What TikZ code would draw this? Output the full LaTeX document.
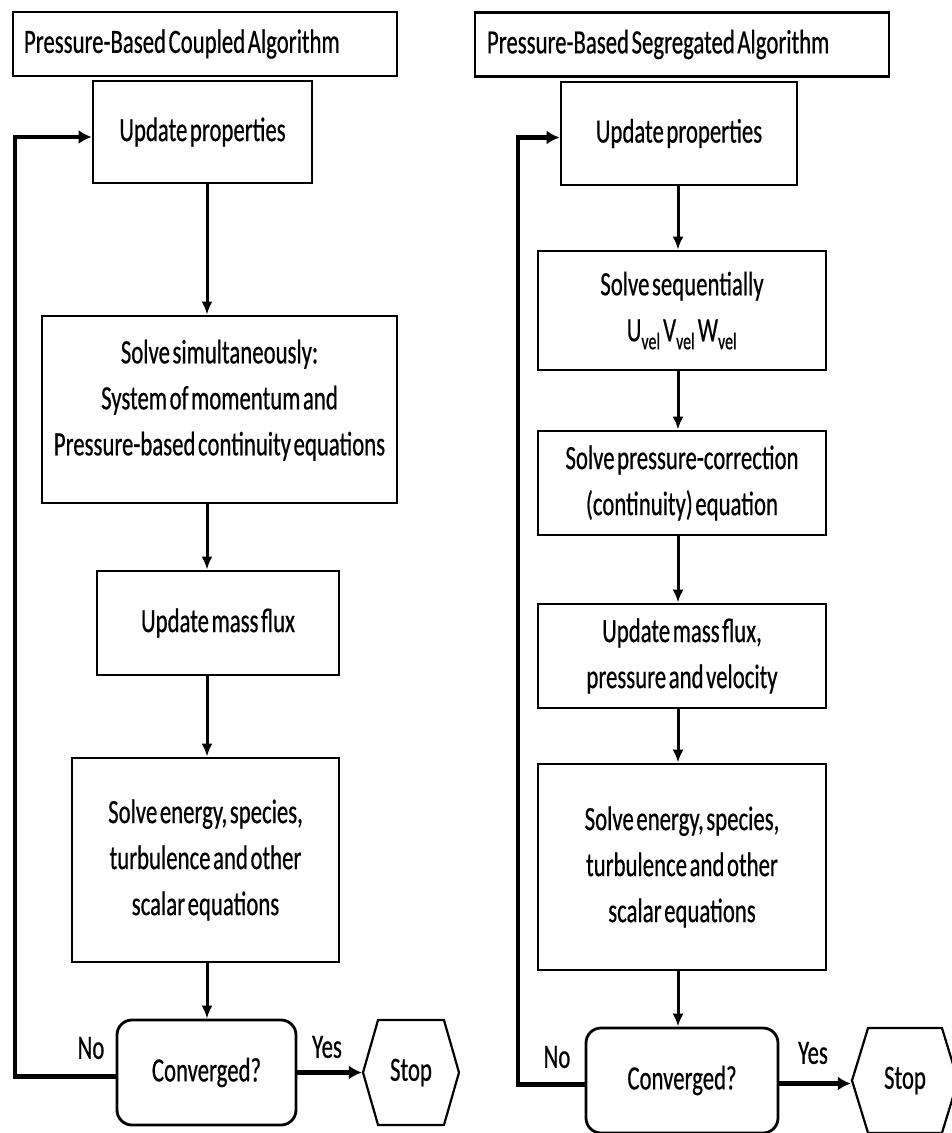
\documentclass[tikz,border=0pt]{standalone}
\usepackage{fontspec}
\setmainfont{Carlito}[FakeStretch=0.67, WordSpace=0.5, FakeBold=0.5]
\usetikzlibrary{arrows.meta,shapes.symbols,calc}

\begin{document}
\begin{tikzpicture}[x=1pt,y=-1pt,
  every node/.style={font=\fontsize{34}{46}\selectfont, inner sep=0pt},
  titlebox/.style={draw, line width=2.8pt, align=left, inner xsep=11pt, minimum height=64pt,
                   execute at begin node={\spaceskip=0pt\xspaceskip=0pt\relax}},
  stepbox/.style={draw, line width=2.8pt, align=center},
  testbox/.style={draw, line width=2.8pt, rounded corners=15pt, align=center},
  stopbox/.style={draw, line width=2.2pt, shape=signal, signal to=east and west,
                  signal pointer angle=148, minimum height=105pt},
  flow/.style={line width=3pt, -{Latex[length=13pt,width=11pt]}},
  back/.style={line width=4.5pt, -{Latex[length=13pt,width=14pt]}},
  lbl/.style={}]

\fill[white] (0,0) rectangle (952,1133);
\useasboundingbox (0,0) rectangle (952,1133);
\clip (0,0) rectangle (952,1133);

% ---------------- coupled algorithm ----------------
\node[titlebox, text width=362pt] (t1) at (205,44) {Pressure-Based Coupled Algorithm};
\node[stepbox, minimum width=219pt, minimum height=102pt] (u1) at (202.5,132) {Update properties};
\node[stepbox, minimum width=355pt, minimum height=187pt] (s1) at (219.5,409.5)
  {Solve simultaneously:\\System of momentum and\\Pressure-based continuity equations\\[-22pt]\mbox{}};
\node[stepbox, minimum width=242pt, minimum height=104pt] (m1) at (218,623) {Update mass flux};
\node[stepbox, minimum width=267pt, minimum height=204pt] (e1) at (205.5,860)
  {Solve energy, species,\\turbulence and other\\scalar equations};
\node[testbox, minimum width=179pt, minimum height=105pt] (c1) at (206.5,1072.5) {Converged?};
\node[stopbox, minimum width=96pt] (x1) at (411,1072.5) {Stop};
\node[lbl] (no1) at (91,1048) {No};
\node[lbl] (yes1) at (327,1047) {Yes};

\coordinate (axL) at (207,0);
\coordinate (lpL) at (15,0);

\draw[flow] (u1.south -| axL) -- (s1.north -| axL);
\draw[flow] (s1.south -| axL) -- (m1.north -| axL);
\draw[flow] (m1.south -| axL) -- (e1.north -| axL);
\draw[flow] (e1.south -| axL) -- (c1.north -| axL);
\draw[back] (c1.east) -- (x1.west);
\draw[back] ([yshift=-4pt]c1.west) -- ([yshift=-4pt]c1.west -| lpL)
  -- ([yshift=-5pt]u1.west -| lpL) -- ([yshift=-5pt]u1.west);

% ---------------- segregated algorithm ----------------
\node[titlebox, text width=390pt, inner xsep=12pt] (t2) at (682,44.5) {Pressure-Based Segregated Algorithm};
\node[stepbox, minimum width=236pt, minimum height=103pt] (u2) at (679,133.5) {Update properties};
\node[stepbox, minimum width=288pt, minimum height=119pt] (q2) at (682,310.5)
  {Solve sequentially\\U\textsubscript{vel} V\textsubscript{vel} W\textsubscript{vel}};
\node[stepbox, minimum width=288pt, minimum height=104pt] (p2) at (682,483)
  {Solve pressure-correction\\(continuity) equation};
\node[stepbox, minimum width=288pt, minimum height=104pt] (m2) at (682,656)
  {Update mass flux,\\pressure and velocity};
\node[stepbox, minimum width=288pt, minimum height=206pt] (e2) at (682,867)
  {Solve energy, species,\\turbulence and other\\scalar equations};
\node[testbox, minimum width=192pt, minimum height=105pt] (c2) at (682,1080.5) {Converged?};
\node[stopbox, minimum width=106pt, signal pointer angle=146] (x2) at (905,1080.5) {Stop};
\node[lbl] (no2) at (557,1057) {No};
\node[lbl] (yes2) at (813,1053) {Yes};

\coordinate (axR) at (678,0);
\coordinate (lpR) at (518,0);

\draw[flow] (u2.south -| axR) -- (q2.north -| axR);
\draw[flow] (q2.south -| axR) -- (p2.north -| axR);
\draw[flow] (p2.south -| axR) -- (m2.north -| axR);
\draw[flow] (m2.south -| axR) -- (e2.north -| axR);
\draw[flow] (e2.south -| axR) -- (c2.north -| axR);
\draw[back] ([yshift=-3pt]c2.east) -- ([yshift=-3pt]x2.west);
\draw[back] ([yshift=-4pt]c2.west) -- ([yshift=-4pt]c2.west -| lpR)
  -- ([yshift=-4pt]u2.west -| lpR) -- ([yshift=-4pt]u2.west);

\end{tikzpicture}
\end{document}
